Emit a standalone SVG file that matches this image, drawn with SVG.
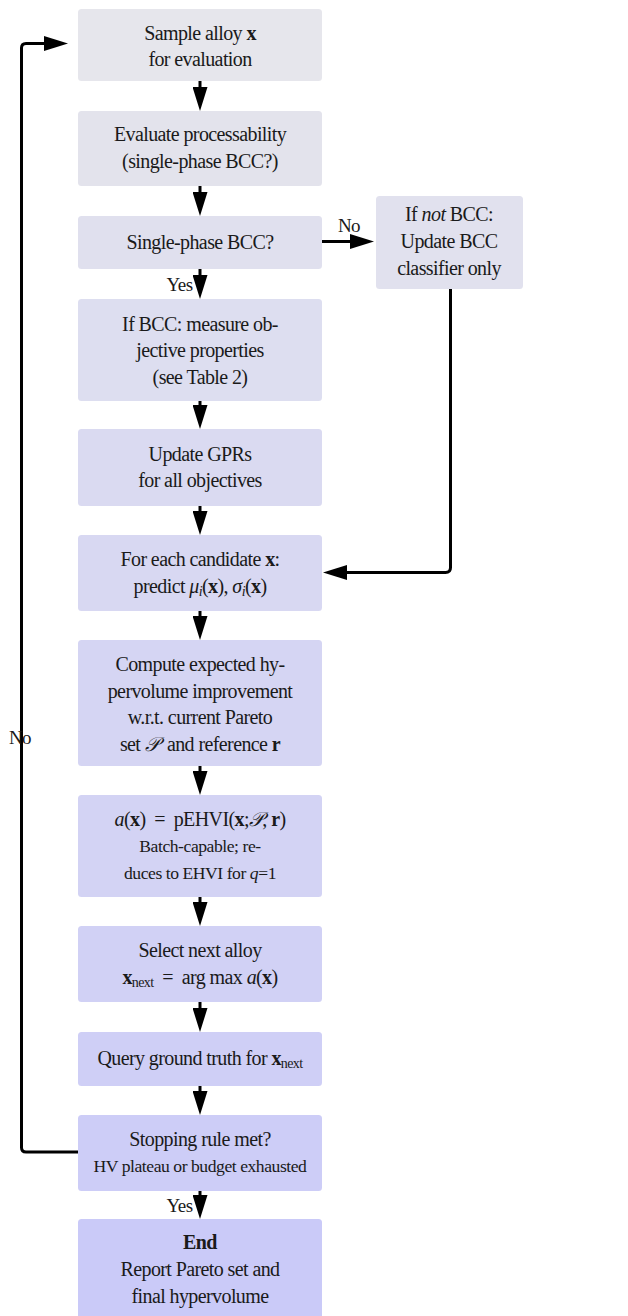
<svg xmlns="http://www.w3.org/2000/svg" width="628" height="1316" viewBox="0 0 628 1316">
<style>
text{font-family:"Liberation Serif","Times New Roman",serif;font-size:20px;letter-spacing:-0.6px;fill:#1a1a1a;text-anchor:middle}
.s{font-size:17.6px;letter-spacing:-0.45px}
.b{font-weight:bold}
.i{font-style:italic}
.conn{fill:none;stroke:#000;stroke-width:3}
.lbl{font-size:19px;letter-spacing:-0.5px}
</style>
<defs>
<marker id="ah" viewBox="0 0 24 15" refX="4" refY="7.5" markerWidth="24" markerHeight="15" markerUnits="userSpaceOnUse" orient="auto">
<path d="M0,0 L24,7.5 L0,15 z" fill="#000"/>
</marker>
</defs>
<rect width="628" height="1316" fill="#fff"/>

<g id="n1"><rect x="78" y="9" width="244" height="72" rx="3.5" fill="#e6e6ec"/>
<text x="200" y="39.5">Sample alloy <tspan class="b">x</tspan></text>
<text x="200" y="66">for evaluation</text></g>

<g id="n2"><rect x="78" y="111" width="244" height="75" rx="3.5" fill="#e3e3ec"/>
<text x="200" y="141">Evaluate processability</text>
<text x="200" y="168">(single-phase BCC?)</text></g>

<g id="n3"><rect x="78" y="216" width="244" height="53" rx="3.5" fill="#e0e0ee"/>
<text x="200" y="248.5">Single-phase BCC?</text></g>

<g id="n3b"><rect x="376" y="196" width="147" height="93" rx="3.5" fill="#e1e1ee"/>
<text x="449" y="221">If <tspan class="i">not</tspan> BCC:</text>
<text x="449" y="248">Update BCC</text>
<text x="449" y="274.5">classifier only</text></g>

<g id="n4"><rect x="78" y="299" width="244" height="102" rx="3.5" fill="#dddef0"/>
<text x="200" y="330.5">If BCC: measure ob-</text>
<text x="200" y="357">jective properties</text>
<text x="200" y="383.5">(see Table 2)</text></g>

<g id="n5"><rect x="78" y="429" width="244" height="77" rx="3.5" fill="#dadaf1"/>
<text x="200" y="460.5">Update GPRs</text>
<text x="200" y="487">for all objectives</text></g>

<g id="n6"><rect x="78" y="535" width="244" height="76" rx="3.5" fill="#d8d8f2"/>
<text x="200" y="565.5">For each candidate <tspan class="b">x</tspan>:</text>
<text x="200" y="593">predict <tspan class="i">μ</tspan><tspan class="i" font-size="14" dy="3">i</tspan><tspan dy="-3">(</tspan><tspan class="b">x</tspan>), <tspan class="i">σ</tspan><tspan class="i" font-size="14" dy="3">i</tspan><tspan dy="-3">(</tspan><tspan class="b">x</tspan>)</text></g>

<g id="n7"><rect x="78" y="640" width="244" height="126" rx="3.5" fill="#d5d5f3"/>
<text x="200" y="671">Compute expected hy-</text>
<text x="200" y="697.5">pervolume improvement</text>
<text x="200" y="724">w.r.t. current Pareto</text>
<text x="200" y="750.5">set <tspan class="i">𝒫</tspan>&#160; and reference <tspan class="b">r</tspan></text></g>

<g id="n8"><rect x="78" y="795" width="244" height="102" rx="3.5" fill="#d3d3f4"/>
<text x="200" y="825.5"><tspan class="i">a</tspan>(<tspan class="b">x</tspan>)&#160; = &#160;pEHVI(<tspan class="b">x</tspan>;<tspan class="i">𝒫</tspan>, <tspan class="b">r</tspan>)</text>
<text x="200" y="852" class="s">Batch-capable; re-</text>
<text x="200" y="878.5" class="s">duces to EHVI for <tspan class="i">q</tspan>=1</text></g>

<g id="n9"><rect x="78" y="926" width="244" height="76" rx="3.5" fill="#d1d1f5"/>
<text x="200" y="957">Select next alloy</text>
<text x="200" y="983.5"><tspan class="b">x</tspan><tspan font-size="14" dy="3">next</tspan><tspan dy="-3">&#160; = &#160;arg max </tspan><tspan class="i">a</tspan>(<tspan class="b">x</tspan>)</text></g>

<g id="n10"><rect x="78" y="1032" width="244" height="54" rx="3.5" fill="#cfcff6"/>
<text x="200" y="1064.5">Query ground truth for <tspan class="b">x</tspan><tspan font-size="14" dy="3">next</tspan></text></g>

<g id="n11"><rect x="78" y="1115" width="244" height="76" rx="3.5" fill="#cdcdf7"/>
<text x="200" y="1145.5">Stopping rule met?</text>
<text x="200" y="1172" class="s">HV plateau or budget exhausted</text></g>

<g id="n12"><rect x="78" y="1219" width="244" height="104" rx="3.5" fill="#cacaf8"/>
<text x="200" y="1248.5" class="b">End</text>
<text x="200" y="1276">Report Pareto set and</text>
<text x="200" y="1302.5">final hypervolume</text></g>

<g id="connectors">
<path class="conn" marker-end="url(#ah)" d="M200,81 V91"/>
<path class="conn" marker-end="url(#ah)" d="M200,186 V196"/>
<path class="conn" marker-end="url(#ah)" d="M200,269 V279"/>
<path class="conn" marker-end="url(#ah)" d="M200,401 V409"/>
<path class="conn" marker-end="url(#ah)" d="M200,506 V515"/>
<path class="conn" marker-end="url(#ah)" d="M200,611 V620"/>
<path class="conn" marker-end="url(#ah)" d="M200,766 V775"/>
<path class="conn" marker-end="url(#ah)" d="M200,897 V906"/>
<path class="conn" marker-end="url(#ah)" d="M200,1002 V1012"/>
<path class="conn" marker-end="url(#ah)" d="M200,1086 V1095"/>
<path class="conn" marker-end="url(#ah)" d="M200,1191 V1199"/>
<path class="conn" marker-end="url(#ah)" d="M322,241.5 H354"/>
<path class="conn" marker-end="url(#ah)" d="M450.5,289 V567.5 Q450.5,572.5 445.5,572.5 H343"/>
<path class="conn" marker-end="url(#ah)" d="M78,1152 H26 Q21.5,1152 21.5,1147.5 V48 Q21.5,43.5 26,43.5 H48"/>
<text class="lbl" x="349" y="232">No</text>
<text class="lbl" x="179.5" y="290.5">Yes</text>
<text class="lbl" x="20" y="744">No</text>
<text class="lbl" x="179.5" y="1212">Yes</text>
</g>
</svg>
